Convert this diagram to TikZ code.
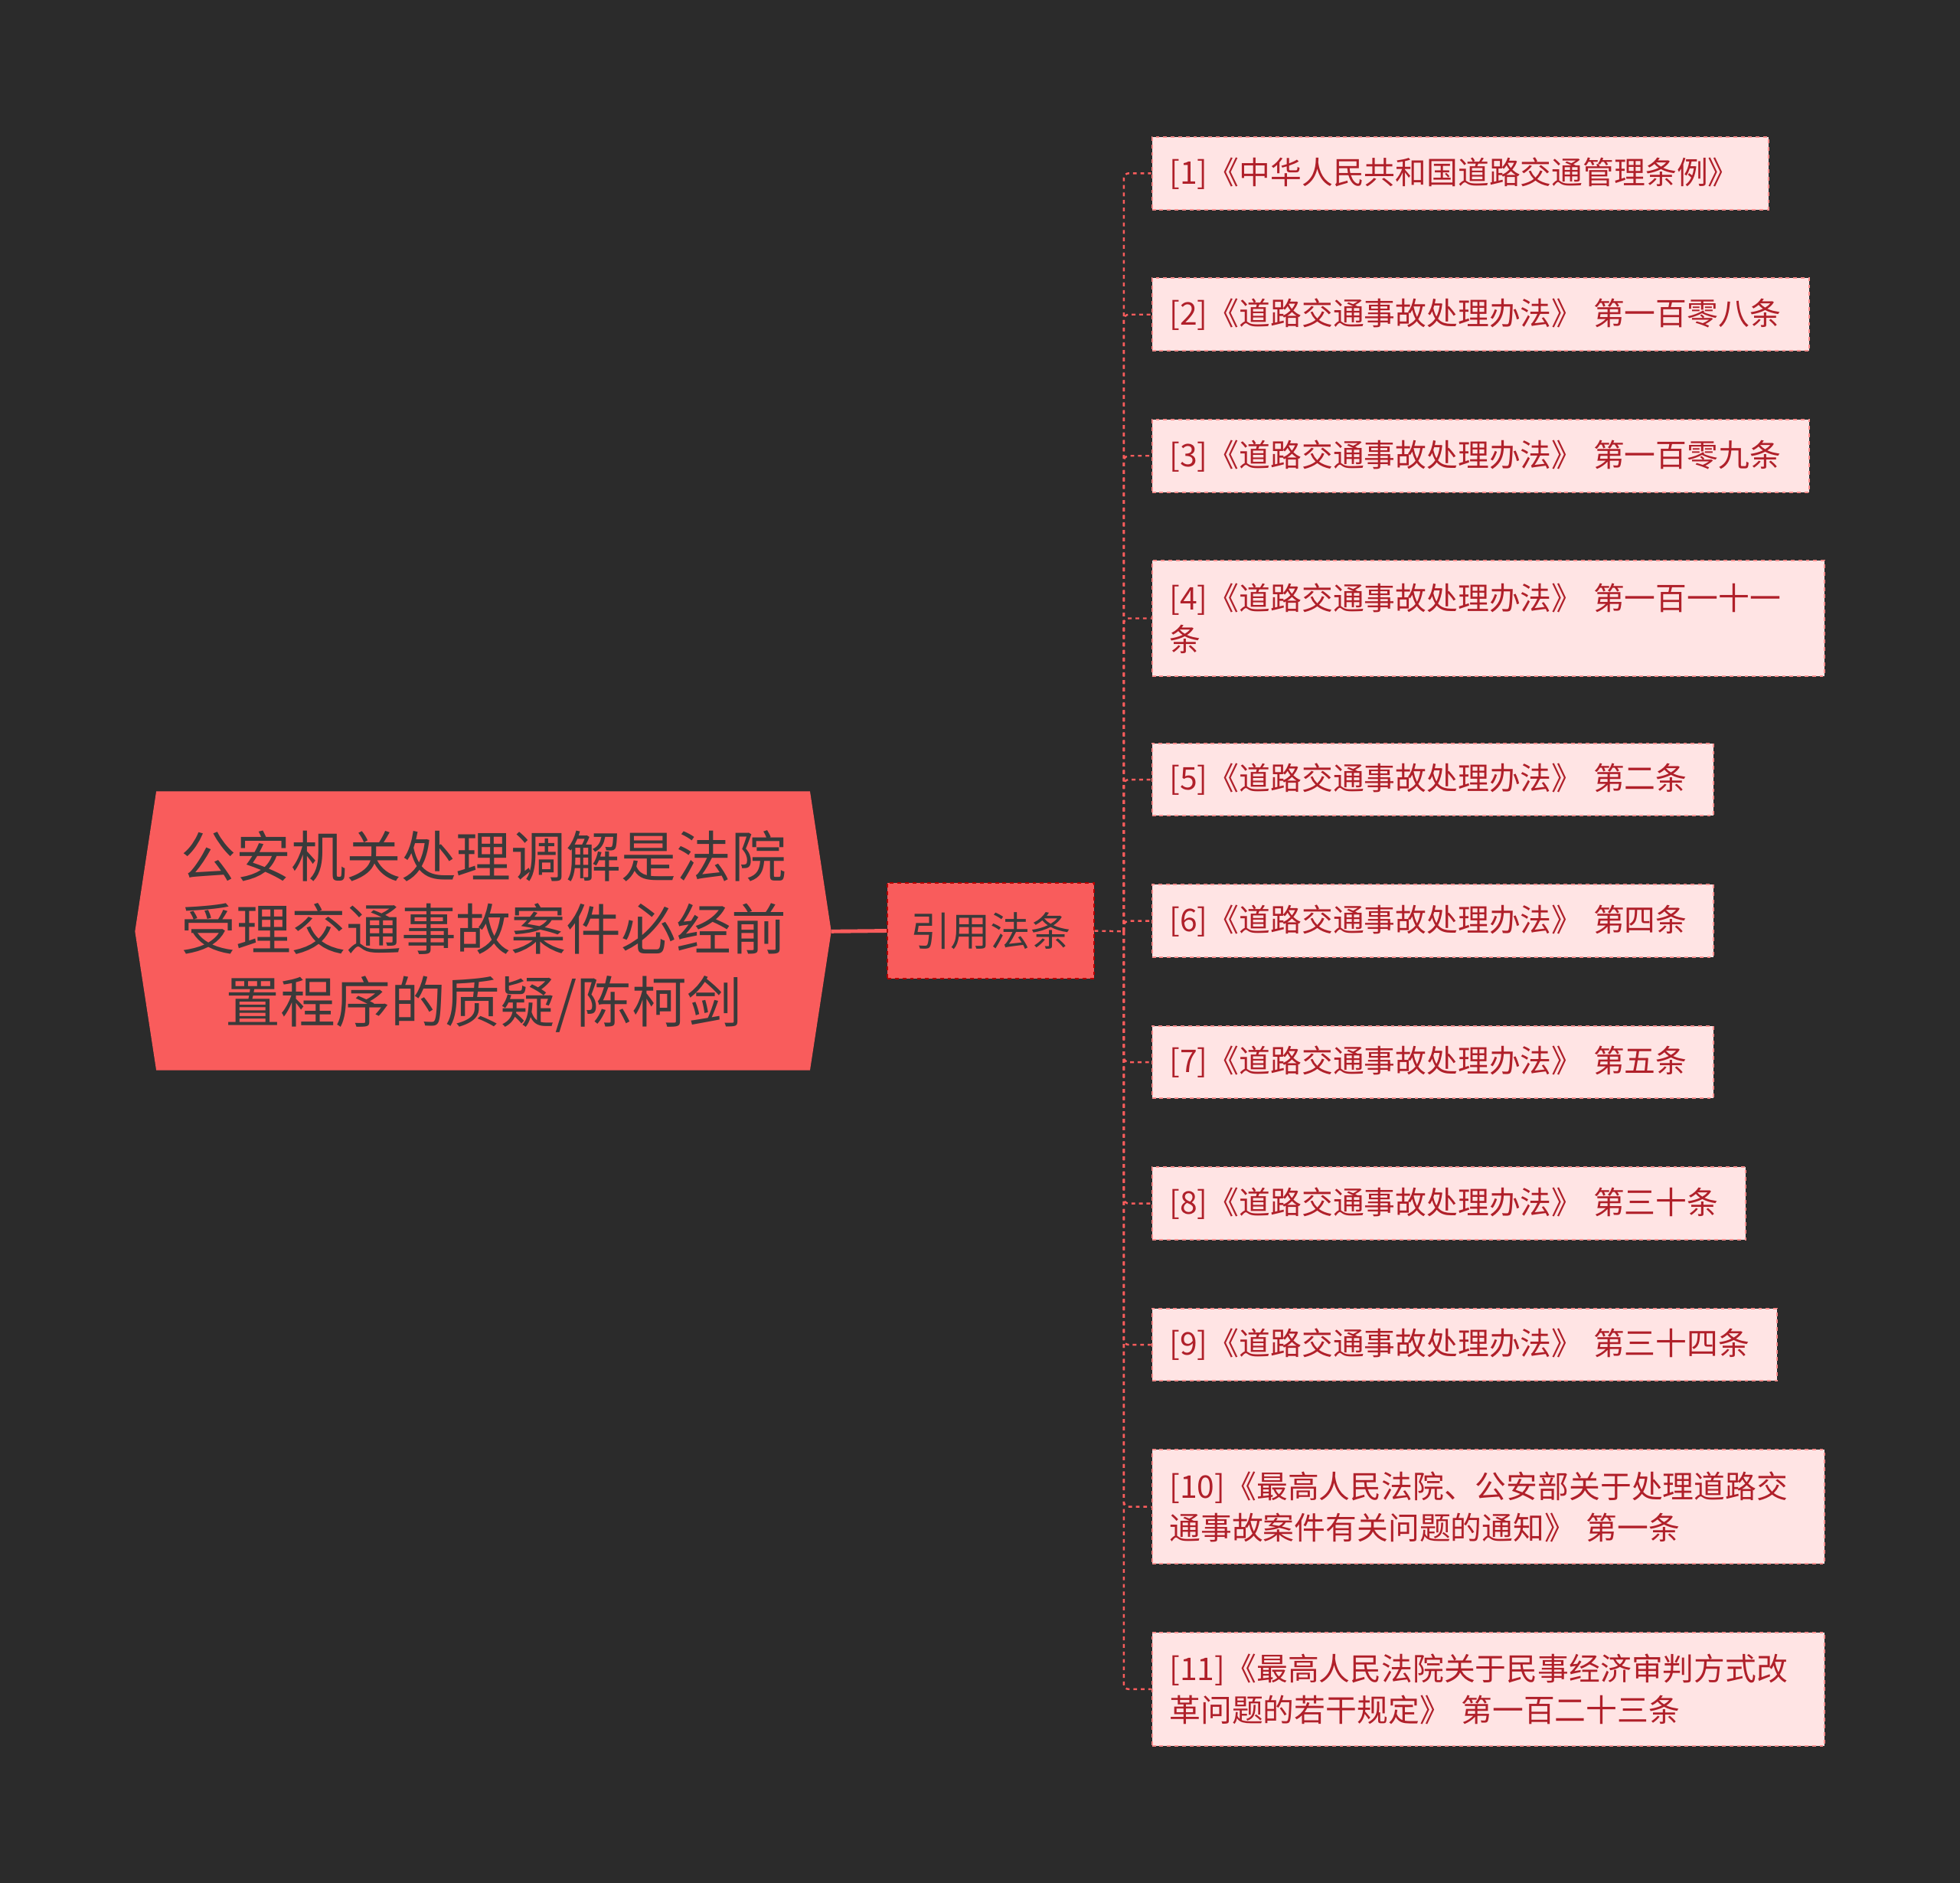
\documentclass[tikz,border=0pt]{standalone}
\usepackage{fontspec}
\setmainfont{Noto Sans CJK SC}
\begin{document}
\begin{tikzpicture}[x=1pt,y=-1pt,
 leaf/.style={draw=#1,dashed,line width=1.2pt,fill=leaffill,anchor=north west,inner xsep=14pt,inner ysep=0pt,align=left,text=leaftext,font=\fontsize{25}{33}\selectfont},
 conn/.style={draw=rootfill,dashed,line width=1.5pt,rounded corners=4pt}]
\definecolor{bg}{HTML}{2B2B2B}
\definecolor{rootfill}{HTML}{F95C5C}
\definecolor{leaffill}{HTML}{FFE4E4}
\definecolor{leaftext}{HTML}{B0202A}
\definecolor{darktext}{HTML}{3A3A3A}
\fill[bg] (0,0) rectangle (1568,1506);
\useasboundingbox (0,0) rectangle (1568,1506);
\fill[rootfill] (108,745) -- (125,633) -- (648,633) -- (665,745) -- (648,856) -- (125,856) -- cycle;
\node[text=darktext,align=center,font=\fontsize{44}{58}\selectfont] (root) at (387,745) {公安机关处理调解是法院\\受理交通事故案件必经前\\置程序的质疑/陈柯剑};
\coordinate (rootE) at (665,745);
\node[draw=red!70!black,dashed,fill=rootfill,line width=1.2pt,minimum width=165pt,minimum height=77pt,text=darktext,font=\fontsize{32}{40}\selectfont] (mid) at (792.5,744.5) {引用法条};
\draw[rootfill,line width=3pt] (rootE) -- (mid.west);
\coordinate (j) at (899,745);
\draw[conn] (mid.east) -- (j);
\foreach \n/\t/\w/\h/\txt in {
 1/109/493/58/{[1]《中华人民共和国道路交通管理条例》},
 2/222/526/58/{[2]《道路交通事故处理办法》 第一百零八条},
 3/335/526/58/{[3]《道路交通事故处理办法》 第一百零九条},
 4/448/538/92/{[4]《道路交通事故处理办法》 第一百一十一\\条},
 5/594/449/58/{[5]《道路交通事故处理办法》 第二条},
 6/707/449/58/{[6]《道路交通事故处理办法》 第四条},
 7/820/449/58/{[7]《道路交通事故处理办法》 第五条},
 8/933/475/58/{[8]《道路交通事故处理办法》 第三十条},
 9/1046/500/58/{[9]《道路交通事故处理办法》 第三十四条},
 10/1159/538/91/{[10]《最高人民法院、公安部关于处理道路交\\通事故案件有关问题的通知》 第一条},
 11/1305/538/91/{[11]《最高人民法院关于民事经济审判方式改\\革问题的若干规定》 第一百二十三条}}{
 \node[leaf=rootfill!70!white,minimum width=\w pt,minimum height=\h pt,text width=\w pt-28pt] (l\n) at (921,\t) {\txt};
 \draw[conn] (j) |- (l\n.west);
}
\end{tikzpicture}
\end{document}
